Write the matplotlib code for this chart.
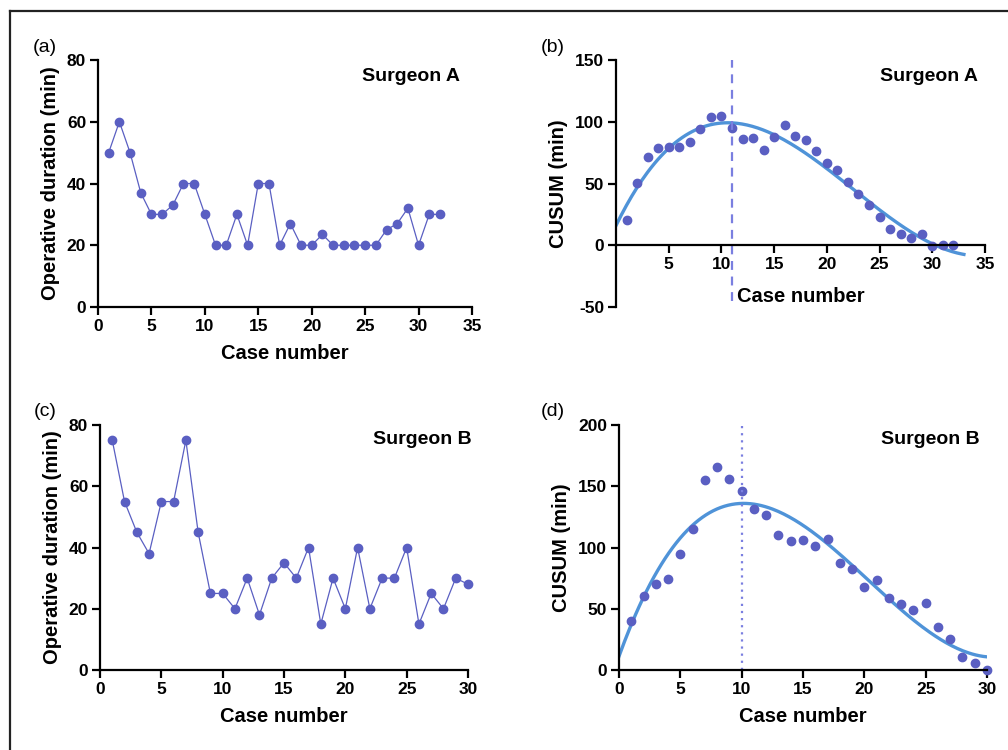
import numpy as np
import matplotlib.pyplot as plt
from matplotlib.lines import Line2D

plt.rcParams['font.family'] = ['Liberation Sans', 'DejaVu Sans']
plt.rcParams['axes.unicode_minus'] = False

# Surgeon A: operative duration and CUSUM
cases_a = np.arange(1, 33)
dur_a = [50, 60, 50, 37, 30, 30, 33, 40, 40, 30, 20, 20, 30, 20, 40, 40,
         20, 27, 20, 20, 23.5, 20, 20, 20, 20, 20, 25, 27, 32, 20, 30, 30]
cusum_a = [20.8, 50.8, 71.6, 78.4, 79.2, 79.5, 83.2, 93.8, 104, 104.9, 95.1,
           85.7, 86.5, 77, 87.3, 97.6, 88.6, 85.4, 76.5, 66.8, 60.8, 51.4,
           41.6, 32.2, 22.7, 13.2, 9.2, 5.9, 8.9, -0.5, 0, 0.5]
cut_a = 11

# Surgeon B
cases_b = np.arange(1, 31)
dur_b = [75, 55, 45, 38, 55, 55, 75, 45, 25, 25, 20, 30, 18, 30, 35, 30,
         40, 15, 30, 20, 40, 20, 30, 30, 40, 15, 25, 20, 30, 28]
cusum_b = [40.2, 60.3, 70.4, 73.9, 94.3, 114.9, 155.2, 165.5, 155.7, 146.2,
           131.5, 126.9, 110.3, 105.7, 106.3, 101.4, 106.8, 87, 82.3, 67.7,
           73.4, 58.4, 53.8, 49.2, 54.6, 35.1, 25.3, 10.6, 6, 0]
cut_b = 10

dot_col = '#5a5fc2'
fit_col = '#4f93d8'
ref_col = '#7a7fe0'

fig = plt.figure(figsize=(10.08, 7.5), dpi=100)
W, H = 1008, 750


def make_ax(l, r, t, b):
    return fig.add_axes([l / W, 1 - b / H, (r - l) / W, (b - t) / H])


def style(ax):
    for s in ['top', 'right']:
        ax.spines[s].set_visible(False)
    for s in ['left', 'bottom']:
        ax.spines[s].set_linewidth(1.6)
    ax.tick_params(direction='out', length=5.5, width=1.6, labelsize=12.5, pad=3)
    for lab in ax.get_xticklabels() + ax.get_yticklabels():
        lab.set_fontweight('bold')


lab_kw = dict(fontsize=14.5, fontweight='bold')
sur_kw = dict(fontsize=14, fontweight='bold')

# (a)
ax = make_ax(98, 472, 60, 307)
ax.plot(cases_a, dur_a, '-o', color=dot_col, lw=0.9, ms=6, clip_on=False)
ax.set_xlim(0, 35)
ax.set_ylim(0, 80)
ax.set_xticks(range(0, 36, 5))
ax.set_yticks(range(0, 81, 20))
style(ax)
ax.set_xlabel('Case number', labelpad=7, **lab_kw)
ax.set_ylabel('Operative duration (min)', labelpad=5, **lab_kw)
ax.text(0.968, 0.935, 'Surgeon A', transform=ax.transAxes, ha='right', va='center', **sur_kw)

# (b)
ax = make_ax(616, 985, 60, 307)
xs = np.linspace(0, 33, 200)
ax.plot(xs, np.polyval(np.polyfit(cases_a, cusum_a, 3), xs), color=fit_col, lw=2.4)
ax.plot(cases_a, cusum_a, 'o', color=dot_col, ms=6, clip_on=False)
ax.plot([cut_a, cut_a], [-45, 150], color=ref_col, lw=1.6, dashes=(4, 3))
ax.set_xlim(0, 35)
ax.set_ylim(-50, 150)
ax.set_xticks(range(5, 36, 5))
ax.set_yticks(range(-50, 151, 50))
ax.spines['bottom'].set_position(('data', 0))
style(ax)
ax.set_xlabel('Case number', **lab_kw)
ax.xaxis.set_label_coords(0.5, 0.08)
ax.set_ylabel('CUSUM (min)', labelpad=5, **lab_kw)
ax.text(0.981, 0.932, 'Surgeon A', transform=ax.transAxes, ha='right', va='center', **sur_kw)

# (c)
ax = make_ax(100, 468, 425, 670)
ax.plot(cases_b, dur_b, '-o', color=dot_col, lw=0.9, ms=6, clip_on=False)
ax.set_xlim(0, 30)
ax.set_ylim(0, 80)
ax.set_xticks(range(0, 31, 5))
ax.set_yticks(range(0, 81, 20))
style(ax)
ax.set_xlabel('Case number', labelpad=7, **lab_kw)
ax.set_ylabel('Operative duration (min)', labelpad=5, **lab_kw)
ax.text(1.01, 0.939, 'Surgeon B', transform=ax.transAxes, ha='right', va='center', **sur_kw)

# (d)
ax = make_ax(619, 987, 425, 670)
xs = np.linspace(0, 30, 200)
ax.plot(xs, np.polyval(np.polyfit(cases_b, cusum_b, 3), xs), color=fit_col, lw=2.4)
ax.plot(cases_b, cusum_b, 'o', color=dot_col, ms=6, clip_on=False)
ax.plot([cut_b, cut_b], [0, 200], color=ref_col, lw=1.6, dashes=(1, 2.2))
ax.set_xlim(0, 30)
ax.set_ylim(0, 200)
ax.set_xticks(range(0, 31, 5))
ax.set_yticks(range(0, 201, 50))
style(ax)
ax.set_xlabel('Case number', labelpad=7, **lab_kw)
ax.set_ylabel('CUSUM (min)', labelpad=5, **lab_kw)
ax.text(0.98, 0.939, 'Surgeon B', transform=ax.transAxes, ha='right', va='center', **sur_kw)

# panel letters
for lbl, px, py in [('(a)', 45, 47), ('(b)', 553, 47), ('(c)', 45, 411), ('(d)', 553, 411)]:
    fig.text(px / W, 1 - py / H, lbl, ha='center', va='center', fontsize=14)

# outer frame (left and top edges visible)
fig.add_artist(Line2D([10 / W, 10 / W], [0, 1 - 11 / H], color='#222222', lw=1.6))
fig.add_artist(Line2D([10 / W, 1], [1 - 11 / H, 1 - 11 / H], color='#222222', lw=1.6))

fig.savefig('out.png', dpi=100)
